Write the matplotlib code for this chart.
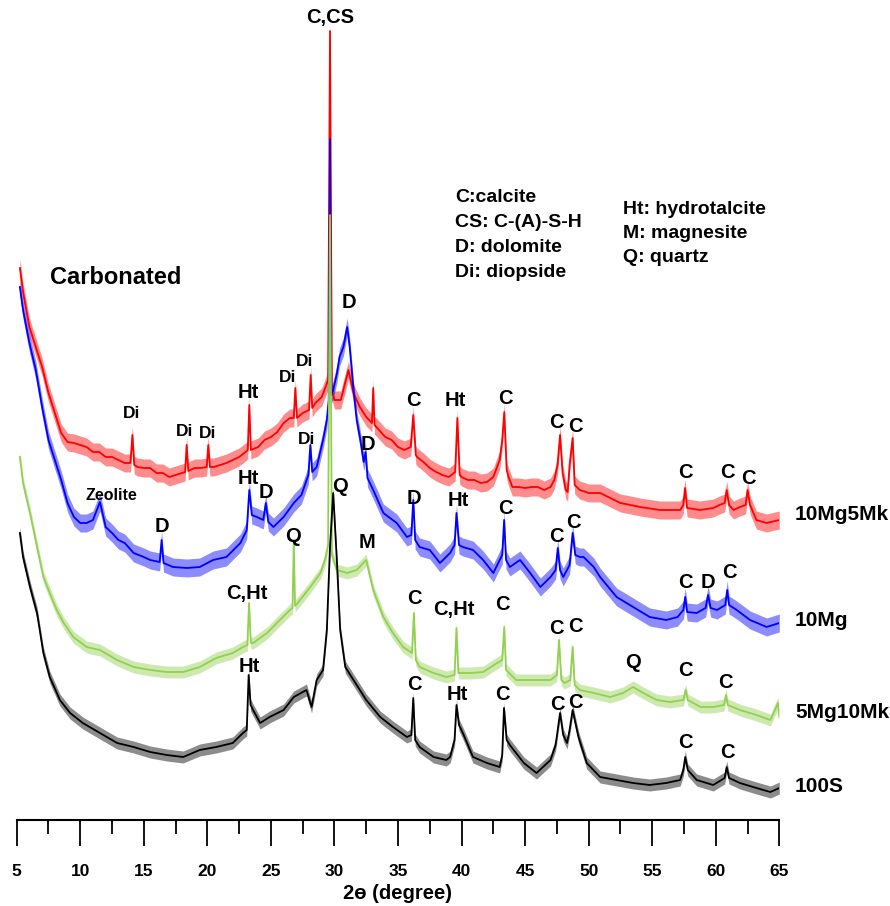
import matplotlib
matplotlib.use("Agg")
import matplotlib.pyplot as plt
import numpy as np
from matplotlib.ticker import MultipleLocator

plt.rcParams['font.family'] = ['Liberation Sans', 'DejaVu Sans']
plt.rcParams['font.weight'] = 'bold'

# XRD patterns (2theta in degree, stacked intensity in a.u.)
two_theta_10mg5mk = [5.25, 5.5, 6.0, 6.5, 7.0, 7.5, 8.0, 8.5, 9.0, 9.5, 10.0, 10.5, 11.0, 11.5, 12.0, 12.5,
                     13.0, 13.5, 13.95, 14.1, 14.25, 14.5, 15.0, 15.5, 16.0, 16.5, 17.0, 17.5, 18.0, 18.25,
                     18.37, 18.5, 19.0, 19.5, 19.95, 20.07, 20.2, 20.5, 21.0, 21.5, 22.0, 22.5, 23.0, 23.18,
                     23.3, 23.42, 24.0, 24.5, 25.0, 25.5, 26.0, 26.5, 26.8, 26.92, 27.05, 27.5, 28.0, 28.13,
                     28.25, 28.5, 29.0, 29.3, 29.5, 29.65, 29.8, 30.0, 30.5, 31.1, 31.5, 32.0, 32.5, 32.95,
                     33.05, 33.15, 33.5, 34.0, 34.5, 35.0, 35.5, 36.0, 36.2, 36.4, 36.5, 37.0, 37.5, 38.0,
                     38.5, 39.0, 39.5, 39.67, 39.85, 40.0, 40.5, 41.0, 41.5, 42.0, 42.5, 43.0, 43.2, 43.36,
                     43.55, 43.7, 44.0, 44.5, 45.0, 45.5, 46.0, 46.5, 47.0, 47.3, 47.55, 47.75, 47.95, 48.2,
                     48.35, 48.5, 48.74, 48.9, 49.3, 50.0, 50.9, 51.7, 52.5, 53.3, 54.05, 55.6, 56.5, 57.2,
                     57.45, 57.58, 57.75, 58.76, 59.8, 60.3, 60.7, 60.86, 61.05, 61.4, 61.9, 62.35, 62.5,
                     62.7, 63.2, 64.0, 65.0]
int_10mg5mk = [552, 528, 493, 473, 453, 427, 407, 387, 378, 377, 375, 373, 368, 368, 363, 363,
               360, 357, 357, 385, 355, 353, 352, 352, 347, 347, 343, 345, 347, 348,
               375, 349, 352, 352, 353, 375, 353, 353, 355, 357, 360, 363, 368, 370,
               415, 370, 373, 380, 383, 388, 397, 402, 402, 432, 402, 407, 410, 445,
               412, 417, 423, 433, 440, 789, 430, 420, 420, 450, 427, 413, 403, 397,
               432, 395, 390, 383, 380, 373, 370, 373, 405, 365, 363, 358, 352, 348,
               345, 343, 348, 402, 345, 343, 340, 340, 337, 338, 343, 360, 380, 408,
               350, 343, 333, 333, 332, 333, 333, 330, 333, 340, 355, 385, 347, 330,
               328, 355, 382, 335, 330, 327, 327, 322, 317, 315, 313, 310, 310, 310,
               315, 332, 312, 310, 312, 315, 317, 330, 315, 310, 313, 315, 330,
               315, 300, 297, 300]

two_theta_10mg = [5.25, 5.5, 6.0, 6.5, 7.0, 7.5, 8.0, 8.5, 9.0, 9.5, 10.0, 10.5, 11.0, 11.55, 12.0, 12.5,
                  13.0, 13.5, 14.2, 15.0, 15.5, 16.25, 16.4, 16.55, 17.3, 18.4, 19.4, 20.45, 21.5, 22.6,
                  23.1, 23.3, 23.5, 23.9, 24.4, 24.6, 24.8, 25.2, 26.0, 26.8, 27.4, 27.95, 28.1, 28.25,
                  28.6, 29.1, 29.4, 29.55, 29.65, 29.75, 29.9, 30.2, 30.4, 30.7, 31.0, 31.2, 31.5, 31.75,
                  32.0, 32.3, 32.45, 32.6, 33.05, 33.85, 34.9, 35.7, 36.05, 36.2, 36.35, 36.7, 37.5, 38.3,
                  39.1, 39.45, 39.6, 39.8, 40.1, 40.9, 41.7, 42.5, 43.0, 43.2, 43.35, 43.5, 43.8, 44.6,
                  45.4, 46.2, 47.0, 47.4, 47.57, 47.75, 48.0, 48.5, 48.74, 48.95, 49.3, 49.6, 50.4, 50.9,
                  52.2, 53.5, 54.8, 56.1, 57.0, 57.45, 57.6, 57.75, 58.5, 59.2, 59.4, 59.6, 60.1, 60.75,
                  60.9, 61.05, 61.65, 62.7, 64.0, 65.0]
int_10mg = [533, 510, 477, 450, 413, 380, 360, 340, 317, 303, 297, 297, 300, 318, 293, 287,
            280, 277, 267, 263, 260, 258, 280, 257, 253, 252, 253, 260, 263, 277,
            290, 330, 305, 303, 300, 317, 298, 293, 303, 317, 325, 345, 375, 348,
            353, 380, 400, 420, 681, 425, 430, 447, 463, 473, 493, 473, 430, 400,
            383, 358, 368, 342, 330, 307, 297, 283, 285, 320, 280, 273, 270, 257,
            267, 275, 307, 275, 273, 270, 260, 247, 260, 265, 300, 260, 253, 260,
            247, 233, 243, 250, 272, 250, 243, 255, 287, 265, 263, 263, 253, 243,
            223, 213, 203, 200, 203, 210, 223, 208, 207, 212, 225, 212, 210, 215,
            230, 215, 210, 200, 193, 197]

two_theta_5mg10mk = [5.25, 5.5, 6.05, 6.6, 7.1, 7.6, 8.15, 8.7, 9.45, 10.5, 11.55, 12.9, 14.2, 15.5, 16.8,
                     18.1, 19.4, 20.7, 22.0, 22.8, 23.15, 23.28, 23.42, 23.6, 24.7, 25.7, 26.5, 26.7, 26.8,
                     26.9, 27.3, 28.1, 28.9, 29.25, 29.5, 29.65, 29.8, 30.2, 31.0, 31.75, 32.5, 33.05, 33.85,
                     34.6, 35.4, 36.1, 36.25, 36.4, 36.7, 37.8, 38.8, 39.45, 39.6, 39.75, 40.7, 41.7, 42.8,
                     43.2, 43.36, 43.5, 44.3, 45.65, 47.0, 47.5, 47.67, 47.85, 48.1, 48.55, 48.74, 48.9,
                     49.3, 50.4, 51.7, 52.7, 53.5, 54.3, 55.35, 56.4, 57.45, 57.64, 57.8, 58.8, 59.8, 60.65,
                     60.8, 60.95, 61.9, 63.2, 64.3, 64.9, 65.0]
int_5mg10mk = [363, 337, 307, 273, 243, 227, 210, 197, 183, 173, 170, 160, 153, 150, 148,
               148, 153, 162, 167, 173, 175, 217, 177, 177, 187, 200, 210, 212, 278,
               214, 220, 233, 247, 260, 275, 605, 265, 250, 247, 250, 260, 230, 203,
               187, 173, 167, 207, 160, 153, 147, 143, 145, 192, 147, 147, 148, 157,
               160, 193, 150, 140, 140, 140, 145, 180, 140, 137, 140, 173, 135,
               130, 127, 123, 127, 133, 127, 120, 118, 120, 130, 120, 113, 113, 115,
               125, 115, 110, 105, 100, 117, 103]

two_theta_100s = [5.25, 5.5, 6.05, 6.6, 7.1, 7.6, 8.4, 9.2, 10.2, 11.55, 12.9, 14.2, 15.5, 16.8, 18.1,
                  19.4, 20.7, 22.0, 22.8, 23.1, 23.25, 23.4, 23.6, 24.15, 24.9, 26.0, 26.8, 27.8, 28.2,
                  28.6, 29.1, 29.4, 29.65, 29.9, 30.2, 30.45, 30.85, 31.5, 32.5, 33.6, 34.6, 35.7, 36.05,
                  36.2, 36.35, 36.7, 37.8, 38.8, 39.1, 39.45, 39.6, 39.8, 40.1, 40.9, 42.0, 43.0, 43.2,
                  43.34, 43.55, 43.8, 44.9, 45.9, 47.0, 47.4, 47.75, 48.0, 48.3, 48.5, 48.74, 49.2, 49.85,
                  50.9, 52.2, 53.5, 54.8, 56.1, 57.2, 57.45, 57.6, 57.8, 58.5, 59.8, 60.7, 60.86, 61.05,
                  61.9, 63.2, 64.3, 65.0]
int_100s = [287, 263, 233, 207, 167, 143, 120, 107, 97, 87, 77, 73, 68, 65, 63,
            70, 73, 77, 87, 90, 145, 115, 110, 97, 103, 110, 123, 130, 113,
            140, 150, 190, 273, 327, 257, 190, 153, 140, 120, 103, 93, 83, 85,
            122, 80, 73, 63, 60, 63, 80, 115, 95, 87, 63, 57, 53, 65,
            112, 80, 75, 57, 47, 60, 75, 107, 85, 77, 90, 110, 83, 57,
            43, 40, 37, 35, 37, 40, 50, 63, 50, 40, 35, 42, 53, 42,
            37, 32, 28, 32]

# half width of the background noise of each pattern
noise_halfwidth = [9, 9, 6, 6]

sample_names = ['10Mg5Mk', '10Mg', '5Mg10Mk', '100S']
sample_colors = ['#ff0000', '#0000ff', '#92d050', 'black']
sample_label_y = [305, 200, 108, 33]

# peak labels: (text, 2theta, y)
peak_labels = [
    ('Di', 14.07, 406), ('Di', 18.24, 388), ('Di', 20.05, 387), ('Ht', 23.21, 428),
    ('Di', 26.35, 443), ('Di', 27.68, 458), ('D', 31.15, 518), ('C', 36.19, 419),
    ('Ht', 39.49, 420), ('C', 43.42, 422), ('C', 47.43, 398), ('C', 48.93, 394),
    ('C', 57.58, 347), ('C', 60.89, 347), ('C', 62.54, 342),
    ('D', 16.43, 294), ('Ht', 23.21, 342), ('D', 24.62, 327),
    ('Di', 27.84, 381), ('D', 32.64, 376), ('D', 36.26, 321), ('Ht', 39.72, 319),
    ('C', 43.42, 312), ('C', 47.43, 284), ('C', 48.77, 298), ('C', 57.58, 237),
    ('D', 59.39, 237), ('C', 61.04, 247),
    ('Q', 30.43, 333), ('Q', 26.73, 284), ('M', 32.56, 277), ('C,Ht', 23.13, 227),
    ('C', 36.27, 222), ('C,Ht', 39.41, 210), ('C', 43.18, 215), ('C', 47.43, 192),
    ('C', 48.93, 193), ('Q', 53.49, 157), ('C', 57.58, 150), ('C', 60.72, 137),
    ('Ht', 23.29, 154), ('C', 36.27, 135), ('Ht', 39.65, 125), ('C', 43.18, 125),
    ('C', 47.51, 115), ('C', 48.93, 118), ('C', 57.58, 78), ('C', 60.89, 68),
]
small_labels = [('Zeolite', 12.43, 325)]

legend_left = ['C:calcite', 'CS: C-(A)-S-H', 'D: dolomite', 'Di: diopside']
legend_right = ['Ht: hydrotalcite', 'M: magnesite', 'Q: quartz']

patterns = [(two_theta_10mg5mk, int_10mg5mk), (two_theta_10mg, int_10mg),
            (two_theta_5mg10mk, int_5mg10mk), (two_theta_100s, int_100s)]

fig = plt.figure(figsize=(8.9, 9.06), dpi=100)
ax = fig.add_axes([16.7 / 890, 86 / 906, 762.6 / 890, 820 / 906])

for (tt, inten), col, hw in zip(patterns, sample_colors, noise_halfwidth):
    inten = np.array(inten)
    ax.fill_between(tt, inten - hw, inten + hw, color=col, alpha=0.45, lw=0)
    ax.plot(tt, inten, color=col, lw=1.3)

for name, y in zip(sample_names, sample_label_y):
    ax.text(66.24, y, name, fontsize=15, fontweight='bold', va='center', ha='left', clip_on=False)

for txt, x, y in peak_labels:
    fs = 12.5 if txt == 'Di' else 14.5
    ax.text(x, y, txt, fontsize=fs, fontweight='bold', ha='center', va='center')
for txt, x, y in small_labels:
    ax.text(x, y, txt, fontsize=11.5, fontweight='bold', ha='center', va='center')

ax.text(29.65, 802, 'C,CS', fontsize=14.5, fontweight='bold', ha='center', va='center')
ax.text(7.62, 543, 'Carbonated', fontsize=17, fontweight='bold', ha='left', va='center')

for i, line in enumerate(legend_left):
    ax.text(39.49, 622 - i * 24.7, line, fontsize=14, fontweight='bold', ha='left', va='center')
for i, line in enumerate(legend_right):
    ax.text(52.71, 611 - i * 24.5, line, fontsize=14, fontweight='bold', ha='left', va='center')

ax.set_xlim(5, 65)
ax.set_ylim(0, 820)
for side in ['left', 'right', 'top']:
    ax.spines[side].set_visible(False)
ax.spines['bottom'].set_linewidth(1.5)
ax.set_yticks([])
ax.xaxis.set_major_locator(MultipleLocator(5))
ax.xaxis.set_minor_locator(MultipleLocator(2.5))
ax.tick_params(axis='x', which='major', direction='out', length=19, width=1.3, pad=13, labelsize=12.5)
ax.tick_params(axis='x', which='minor', direction='out', length=10, width=1.3)
for lab in ax.get_xticklabels():
    lab.set_fontweight('bold')
ax.set_xlabel('2\u0275 (degree)', fontsize=14.5, fontweight='bold', labelpad=3)

fig.savefig('out.png', dpi=100)
